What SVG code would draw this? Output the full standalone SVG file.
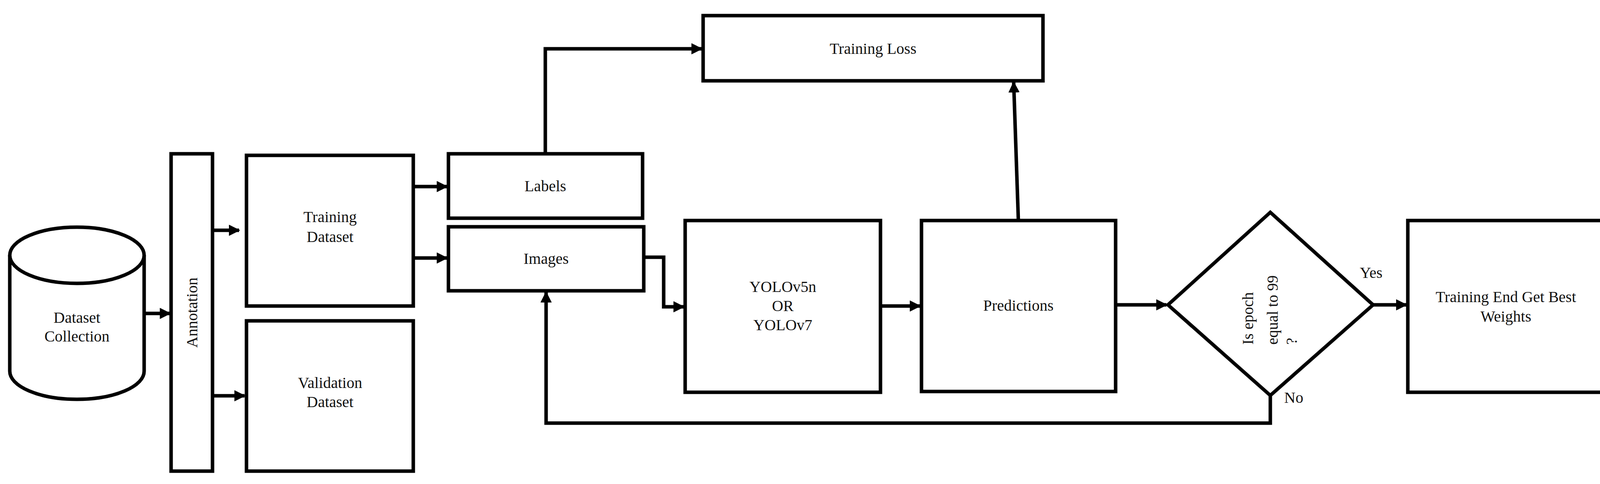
<svg xmlns="http://www.w3.org/2000/svg" width="4142" height="1240" viewBox="0 0 4142 1240">
<style>
.s{fill:#fff;stroke:#000;stroke-width:9}
.t{font-family:"Liberation Serif",serif;font-size:40px;fill:#111;text-anchor:middle}
.c{fill:none;stroke:#000;stroke-width:9}
</style>
<defs><marker id="a" viewBox="0 0 10 10" refX="9" refY="5" markerWidth="3.2" markerHeight="3.2" orient="auto" markerUnits="strokeWidth"><path d="M0,0L10,5L0,10z" fill="#000"/></marker></defs>
<rect width="4142" height="1240" fill="#fff"/>
<g id="dataset-collection"><path class="s" d="M25,654 V951 A172,72 0 0 0 369,951 V654"/><ellipse class="s" cx="197" cy="654" rx="172" ry="72"/><text class="t" x="197" y="827">Dataset</text><text class="t" x="197" y="875">Collection</text></g>
<g id="annotation"><rect class="s" x="438" y="394" width="106" height="813"/><text class="t" transform="translate(505,801) rotate(-90)">Annotation</text></g>
<g id="training-dataset"><rect class="s" x="631" y="398" width="427" height="386"/><text class="t" x="845" y="569">Training</text><text class="t" x="845" y="620">Dataset</text></g>
<g id="validation-dataset"><rect class="s" x="631" y="822" width="427" height="385"/><text class="t" x="845" y="994">Validation</text><text class="t" x="845" y="1043">Dataset</text></g>
<g id="labels"><rect class="s" x="1148" y="394" width="497" height="165"/><text class="t" x="1396" y="490">Labels</text></g>
<g id="images"><rect class="s" x="1148" y="581" width="500" height="164"/><text class="t" x="1398" y="676">Images</text></g>
<g id="training-loss"><rect class="s" x="1800" y="40" width="870" height="167"/><text class="t" x="2235" y="138">Training Loss</text></g>
<g id="yolo"><rect class="s" x="1754" y="565" width="500" height="440"/><text class="t" x="2004" y="748">YOLOv5n</text><text class="t" x="2004" y="797">OR</text><text class="t" x="2004" y="846">YOLOv7</text></g>
<g id="predictions"><rect class="s" x="2359" y="565" width="497" height="438"/><text class="t" x="2607" y="796">Predictions</text></g>
<g id="decision"><polygon class="s" points="3252,544 3515,781 3252,1013 2990,781"/><text class="t" style="text-anchor:start" transform="translate(3208,883) rotate(-90)">Is epoch</text><text class="t" style="text-anchor:start" transform="translate(3271,883) rotate(-90)">equal to 99</text><text class="t" style="text-anchor:start" transform="translate(3320,883) rotate(-90)">?</text></g>
<g id="training-end"><rect class="s" x="3604" y="565" width="501" height="440"/><text class="t" x="3855" y="774">Training End Get Best</text><text class="t" x="3855" y="824">Weights</text></g>
<g id="connectors">
<path class="c" marker-end="url(#a)" d="M369,803H435"/>
<path class="c" marker-end="url(#a)" d="M544,590H612"/>
<path class="c" marker-end="url(#a)" d="M544,1014H626"/>
<path class="c" marker-end="url(#a)" d="M1058,478H1144"/>
<path class="c" marker-end="url(#a)" d="M1058,661H1144"/>
<path class="c" marker-end="url(#a)" d="M1396,394V125H1796"/>
<path class="c" marker-end="url(#a)" d="M1648,659H1699V786H1750"/>
<path class="c" marker-end="url(#a)" d="M2254,784H2355"/>
<path class="c" marker-end="url(#a)" d="M2607,565L2595,211"/>
<path class="c" marker-end="url(#a)" d="M2856,781H2986"/>
<path class="c" marker-end="url(#a)" d="M3515,781H3600"/>
<path class="c" marker-end="url(#a)" d="M3252,1013V1084H1398V749"/>
</g>
<text class="t" x="3510" y="712">Yes</text>
<text class="t" x="3312" y="1032">No</text>
</svg>
